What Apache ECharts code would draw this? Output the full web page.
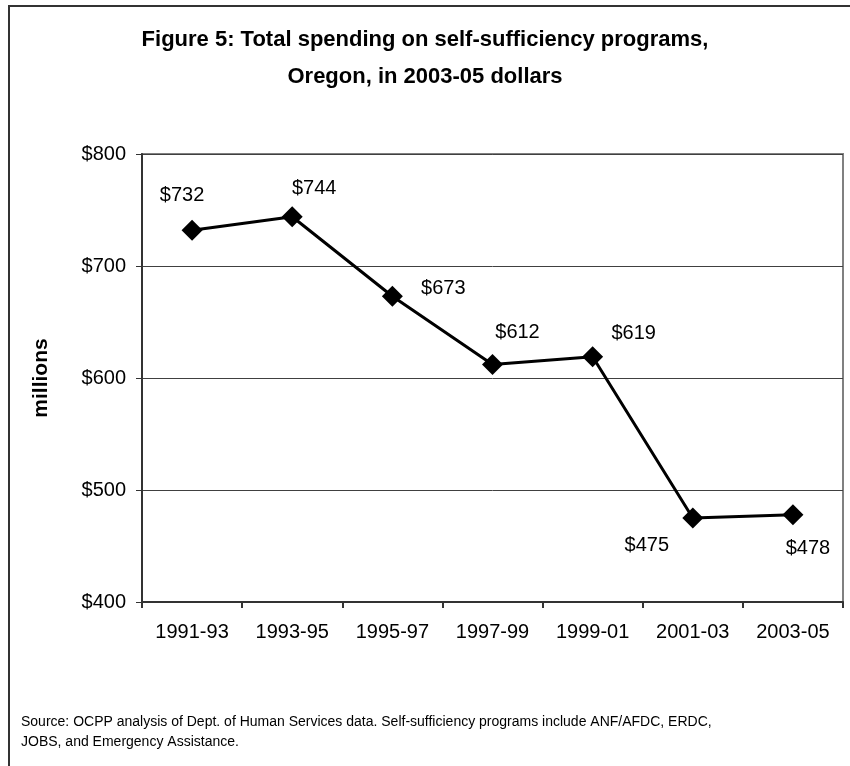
<!DOCTYPE html>
<html>
<head>
<meta charset="utf-8">
<script src="https://cdn.jsdelivr.net/npm/echarts@6/dist/echarts.min.js"></script>
<style>
  html, body { margin: 0; padding: 0; background: #fff; }
  #chart { width: 850px; height: 766px; }
</style>
</head>
<body>
<div id="chart"></div>
<script>
// Biennium periods and total self-sufficiency spending (millions, 2003-05 dollars)
const periods = ['1991-93', '1993-95', '1995-97', '1997-99', '1999-01', '2001-03', '2003-05'];
const spending = [732, 744, 673, 612, 619, 475, 478];

// Value axis range
const yMin = 400;
const yMax = 800;
const yStep = 100;

// Where each value label sits relative to its marker (px)
const labelOffsets = [[-10, -35], [22, -28], [51, -8], [25, -32], [41, -23], [-46, 27], [15, 34]];

const FONT = "'Liberation Sans', Arial, sans-serif";

const chart = echarts.init(document.getElementById('chart'), null, { renderer: 'canvas' });

chart.setOption({
  backgroundColor: '#ffffff',
  animation: false,
  grid: {
    left: 142,
    right: 7,
    top: 154,
    bottom: 164,
    show: true,
    borderColor: '#808080',
    borderWidth: 2,
    containLabel: false
  },
  xAxis: {
    type: 'category',
    data: periods,
    boundaryGap: true,
    axisLine: { lineStyle: { color: '#333', width: 2 } },
    axisTick: { show: true, length: 6, lineStyle: { color: '#333', width: 2 } },
    axisLabel: { fontFamily: FONT, fontSize: 20, color: '#000', margin: 20 },
    splitLine: { show: false }
  },
  yAxis: {
    type: 'value',
    min: yMin,
    max: yMax,
    interval: yStep,
    name: 'millions',
    nameLocation: 'middle',
    nameRotate: 90,
    nameGap: 90,
    nameTextStyle: { fontFamily: FONT, fontWeight: 'bold', fontSize: 21, color: '#000' },
    axisLine: { show: true, lineStyle: { color: '#333', width: 2 } },
    axisTick: { show: true, length: 6, lineStyle: { color: '#333', width: 1 } },
    axisLabel: {
      fontFamily: FONT, fontSize: 20, color: '#000', margin: 16,
      formatter: v => '$' + v
    },
    splitLine: { show: true, lineStyle: { color: '#404040', width: 1 } }
  },
  series: [{
    type: 'line',
    data: spending.map((v, i) => ({
      value: v,
      label: { offset: labelOffsets[i] }
    })),
    symbol: 'diamond',
    symbolSize: 21,
    itemStyle: { color: '#000' },
    lineStyle: { color: '#000', width: 3 },
    label: {
      show: true,
      position: 'inside',
      align: 'center',
      verticalAlign: 'middle',
      fontFamily: FONT,
      fontSize: 20,
      color: '#000',
      formatter: p => '$' + p.value
    },
    z: 5
  }],
  graphic: [
    {
      // outer chart frame, running off the right and bottom edges
      type: 'rect',
      shape: { x: 9, y: 6, width: 900, height: 900 },
      style: { fill: 'none', stroke: '#333', lineWidth: 2 },
      silent: true
    },
    {
      type: 'text',
      x: 425,
      y: 58,
      style: {
        text: 'Figure 5: Total spending on self-sufficiency programs,\nOregon, in 2003-05 dollars',
        font: 'bold 22px ' + FONT,
        lineHeight: 37,
        align: 'center',
        verticalAlign: 'middle',
        fill: '#000'
      }
    },
    {
      type: 'text',
      left: 21,
      top: 712,
      style: {
        text: 'Source: OCPP analysis of Dept. of Human Services data. Self-sufficiency programs include ANF/AFDC, ERDC,\nJOBS, and Emergency Assistance.',
        font: '14px ' + FONT,
        lineHeight: 20,
        fill: '#000'
      }
    }
  ]
});
</script>
</body>
</html>
